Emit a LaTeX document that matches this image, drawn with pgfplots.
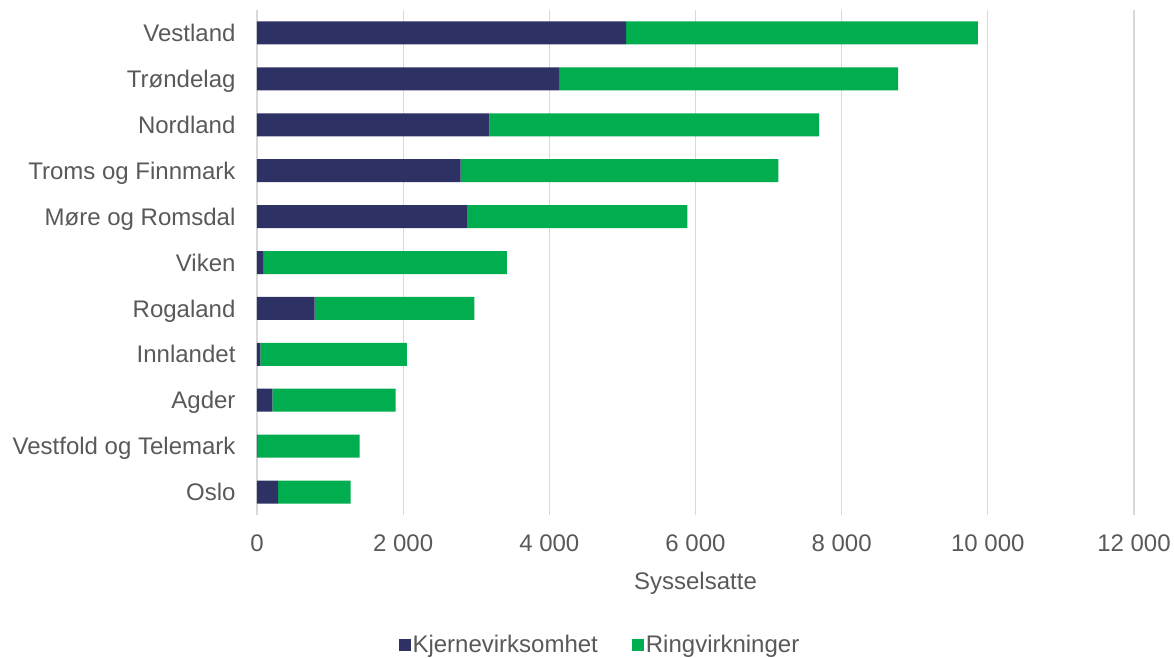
\documentclass[border=0pt]{standalone}
\usepackage{pgfplots}
\pgfplotsset{compat=1.18}
\usepackage{fontspec}
\setmainfont{Liberation Sans}
\definecolor{navy}{HTML}{2E3164}
\definecolor{grn}{HTML}{00AE4F}
\definecolor{txt}{HTML}{595959}
\definecolor{gridc}{HTML}{D9D9D9}
\begin{document}
\begin{tikzpicture}
\path[use as bounding box] (-257pt,-142pt) rectangle (917pt,515pt);
\begin{axis}[
  at={(0pt,0pt)}, anchor=south west,
  scale only axis, width=877pt, height=505pt,
  xbar stacked, bar width=23pt,
  xmin=0, xmax=12000, ymin=-0.5, ymax=10.5,
  scaled x ticks=false,
  ytick={0,...,10},
  yticklabels={Oslo, Vestfold og Telemark, Agder, Innlandet, Rogaland, Viken, Møre og Romsdal, Troms og Finnmark, Nordland, Trøndelag, Vestland},
  xtick={0,2000,4000,6000,8000,10000,12000},
  xticklabels={0, 2 000, 4 000, 6 000, 8 000, 10 000, 12 000},
  xmajorgrids, grid style={gridc, line width=1.3pt},
  axis line style={draw=none},
  major tick length=0pt,
  typeset ticklabels with strut,
  tick label style={font=\fontsize{24}{28}\selectfont, text=txt},
  xticklabel style={yshift=-13pt},
  yticklabel style={xshift=-18pt, yshift=-3pt},
  xlabel={Sysselsatte},
  xlabel style={font=\fontsize{24}{28}\selectfont, text=txt, yshift=-6pt},
  legend style={at={(0.391,-0.257)}, anchor=center, draw=none, legend columns=2,
    font=\fontsize{24}{28}\selectfont, text=txt,
    /tikz/every even column/.append style={column sep=32pt}},
  legend image code/.code={\fill[#1] (2pt,-6pt) rectangle (14pt,6pt);},
]
\addplot[fill=navy, draw=none] coordinates {
 (290,0) (10,1) (210,2) (45,3) (790,4) (85,5) (2870,6) (2785,7) (3180,8) (4135,9) (5050,10)};
\addplot[fill=grn, draw=none] coordinates {
 (990,0) (1393,1) (1686,2) (2006,3) (2186,4) (3333,5) (3018,6) (4348,7) (4513,8) (4639,9) (4813,10)};
\legend{Kjernevirksomhet, Ringvirkninger}
\end{axis}
\end{tikzpicture}
\end{document}
